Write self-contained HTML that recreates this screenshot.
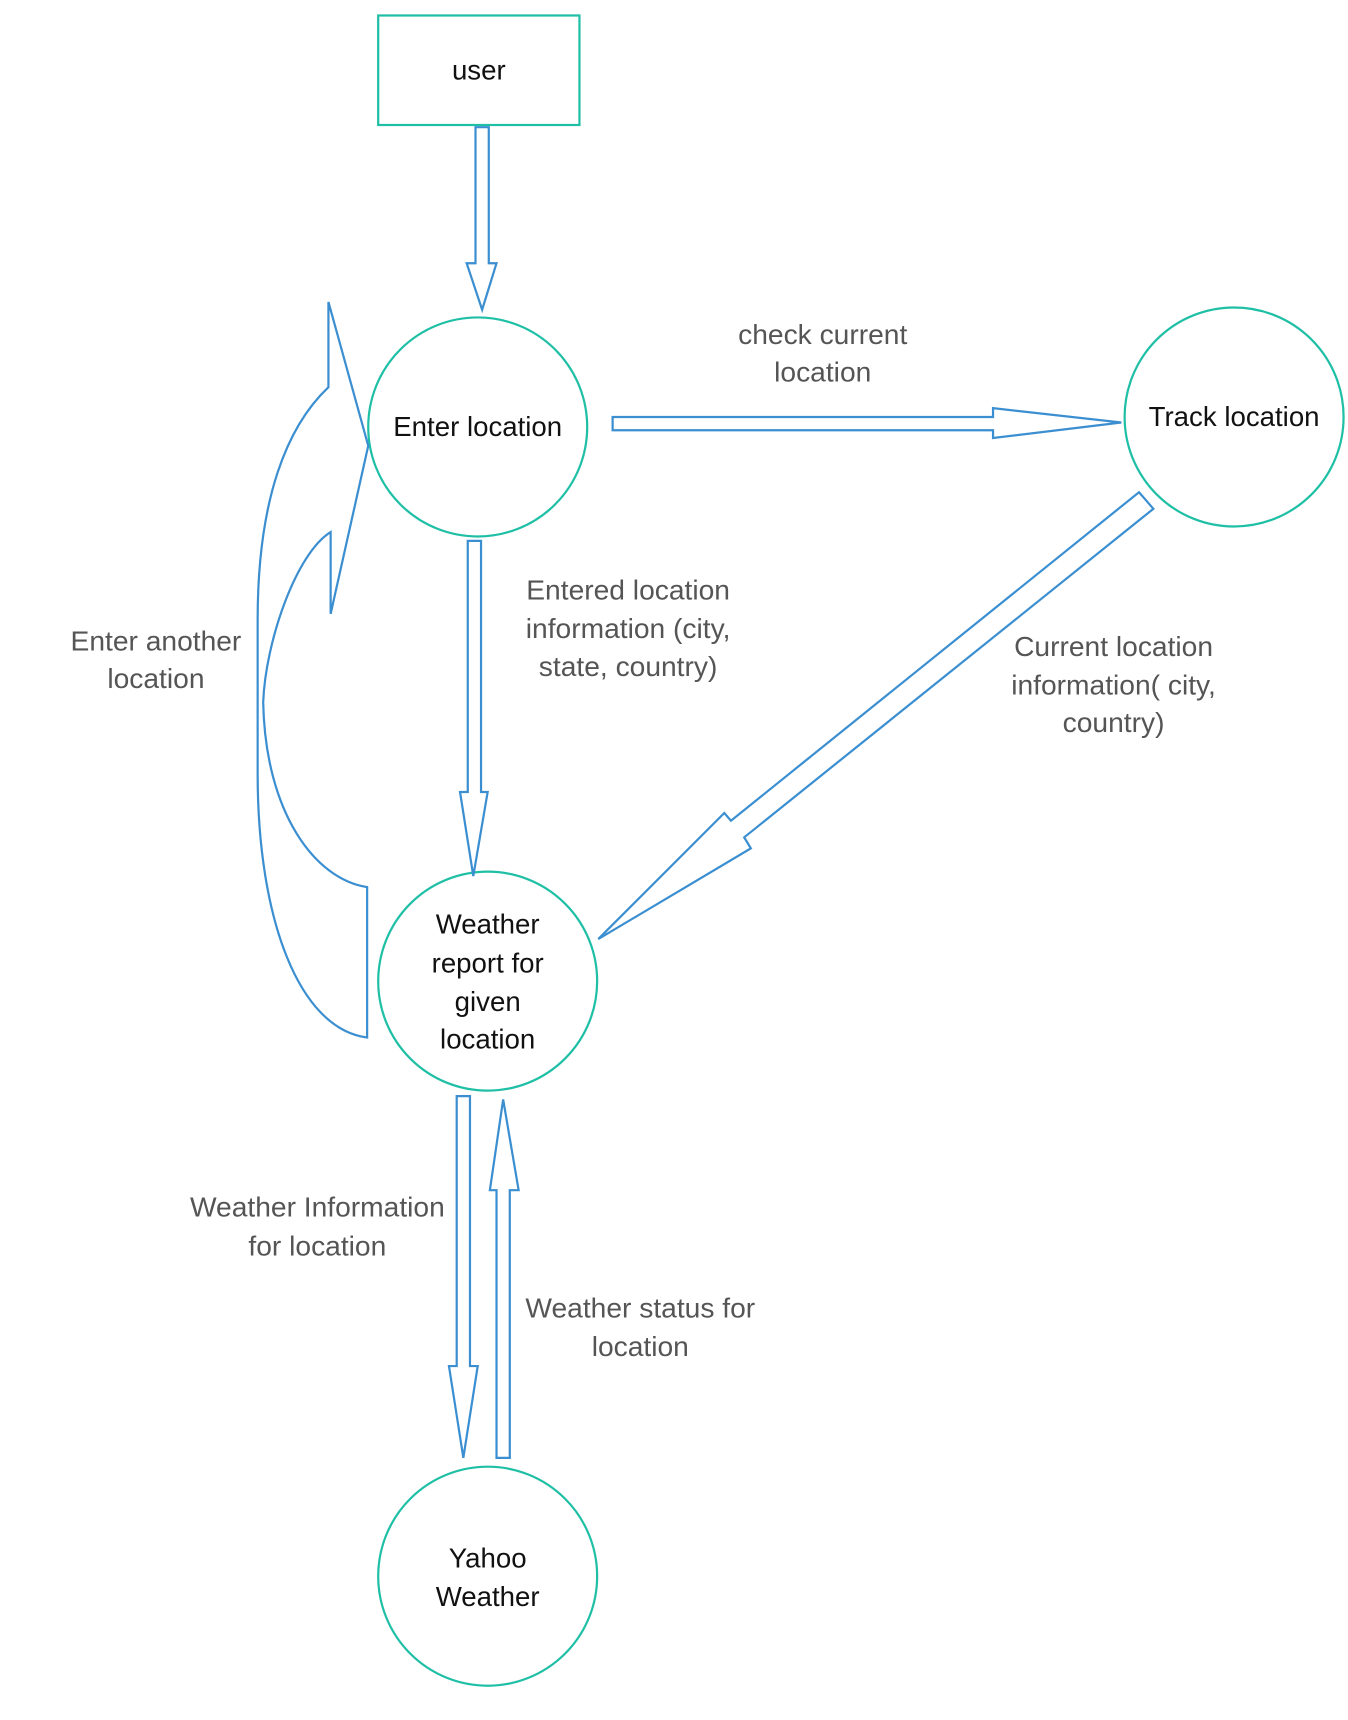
<!DOCTYPE html>
<html><head><meta charset="utf-8"><style>
html,body{margin:0;padding:0;background:#fff;}
svg{display:block;}
text{font-family:"Liberation Sans",sans-serif;font-size:25px;text-anchor:middle;}
.n{fill:#111;}
.l{fill:#555;font-size:25.5px;}
</style></head><body>
<svg width="1348" height="1720" viewBox="0 0 1219 1555" preserveAspectRatio="none" xmlns="http://www.w3.org/2000/svg">
<g fill="none" stroke="#1fbfa6" stroke-width="2">
<rect x="342" y="14" width="182" height="99"/>
<circle cx="432" cy="386" r="99"/>
<circle cx="1116" cy="377" r="99"/>
<circle cx="441" cy="887" r="99"/>
<circle cx="441" cy="1425" r="99"/>
</g>
<g fill="none" stroke="#3b8fd1" stroke-width="2" stroke-linejoin="miter">
<path d="M430,115 L442,115 L442,238 L449,238 L436,280 L422,238 L430,238 Z"/>
<path d="M554,377 L898,377 L898,369 L1014,382 L898,396 L898,389 L554,389 Z"/>
<path d="M423,489 L435,489 L435,716 L441,716 L428,792 L416,716 L423,716 Z"/>
<path d="M1030,445 L1043,460 L673,757 L679,767 L541,849 L655,735 L661,742 Z"/>
<path d="M413,991 L425,991 L425,1235 L432,1235 L419,1318 L406,1235 L413,1235 Z"/>
<path d="M449,1318 L461,1318 L461,1076 L469,1076 L455,994 L443,1076 L449,1076 Z"/>
<path d="M332,938 C270,930 233,830 233,700 L233,560 C233,450 260,385 297,350 L297,273 L333,403 L299,555 L299,481 C268,500 240,580 238,635 C240,735 285,795 332,802 Z"/>
</g>
<text class="n" x="433" y="72">user</text>
<text class="n" x="432" y="394">Enter location</text>
<text class="n" x="1116" y="385">Track location</text>
<text class="n" x="441" y="844">Weather</text>
<text class="n" x="441" y="879">report for</text>
<text class="n" x="441" y="914">given</text>
<text class="n" x="441" y="948">location</text>
<text class="n" x="441" y="1417">Yahoo</text>
<text class="n" x="441" y="1452">Weather</text>
<text class="l" x="744" y="311">check current</text>
<text class="l" x="744" y="345">location</text>
<text class="l" x="568" y="542">Entered location</text>
<text class="l" x="568" y="577">information (city,</text>
<text class="l" x="568" y="611">state, country)</text>
<text class="l" x="141" y="588">Enter another</text>
<text class="l" x="141" y="622">location</text>
<text class="l" x="1007" y="593">Current location</text>
<text class="l" x="1007" y="628">information( city,</text>
<text class="l" x="1007" y="662">country)</text>
<text class="l" x="287" y="1100">Weather Information</text>
<text class="l" x="287" y="1135">for location</text>
<text class="l" x="579" y="1191">Weather status for</text>
<text class="l" x="579" y="1226">location</text>
</svg>
</body></html>
